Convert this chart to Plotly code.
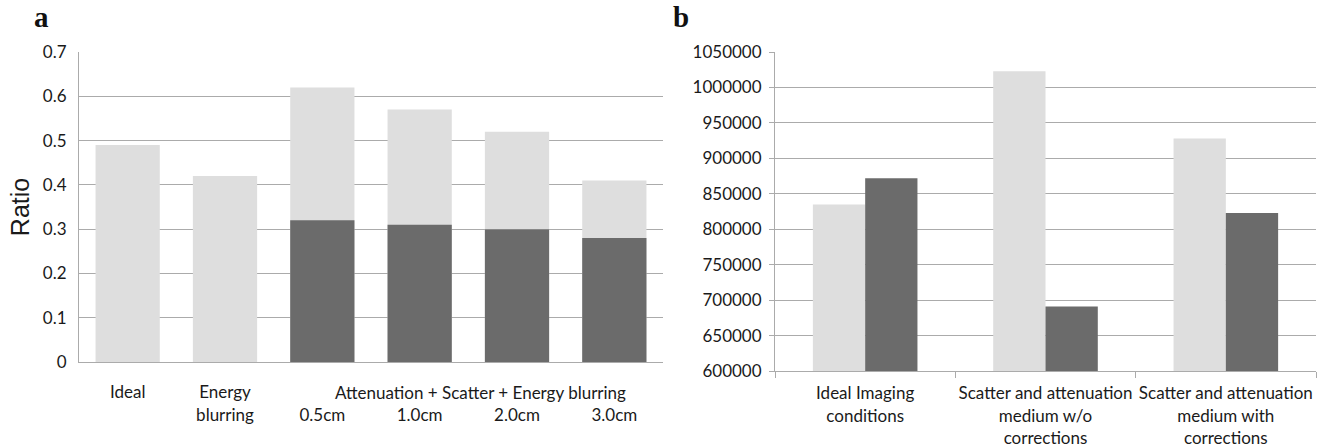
import plotly.graph_objects as go

# ---- Panel a data ----
a_categories = ["Ideal", "Energy blurring", "0.5cm", "1.0cm", "2.0cm", "3.0cm"]
a_light = [0.49, 0.42, 0.62, 0.57, 0.52, 0.41]
a_dark = [None, None, 0.32, 0.31, 0.30, 0.28]
a_group_label = "Attenuation + Scatter + Energy blurring"
a_ytick_vals = [0, 0.1, 0.2, 0.3, 0.4, 0.5, 0.6, 0.7]
a_ytick_text = ["0", "0.1", "0.2", "0.3", "0.4", "0.5", "0.6", "0.7"]

# ---- Panel b data ----
b_categories = ["Ideal Imaging<br>conditions",
                "Scatter and attenuation<br>medium w/o<br>corrections",
                "Scatter and attenuation<br>medium with<br>corrections"]
b_light = [835000, 1023000, 928000]
b_dark = [872000, 691000, 823000]
b_ytick_vals = [600000, 650000, 700000, 750000, 800000, 850000, 900000, 950000, 1000000, 1050000]

LIGHT = "#dedede"
DARK = "#6b6b6b"
GRID = "#ababab"
FONT = "Lato"
TXT = "#1a1a1a"

W, H = 1317, 448


def px(x):
    return x / W


def py(y):
    return (H - y) / H


# tick text for panel a (single-word labels on line 1, cm labels on line 2)
a_ticktext = []
for c in a_categories:
    if c.endswith("cm"):
        a_ticktext.append(" <br>" + c)
    else:
        a_ticktext.append(c.replace(" ", "<br>"))
a_x = list(range(len(a_categories)))

fig = go.Figure()

fig.add_trace(go.Bar(x=a_x, y=a_light, marker=dict(color=LIGHT, line=dict(width=0)),
                     width=0.66, offset=-0.33, xaxis="x", yaxis="y", showlegend=False))
fig.add_trace(go.Bar(x=a_x, y=a_dark, marker=dict(color=DARK, line=dict(width=0)),
                     width=0.66, offset=-0.33, xaxis="x", yaxis="y", showlegend=False))

fig.add_trace(go.Bar(x=b_categories, y=b_light, marker=dict(color=LIGHT, line=dict(width=0)),
                     xaxis="x2", yaxis="y2", showlegend=False))
fig.add_trace(go.Bar(x=b_categories, y=b_dark, marker=dict(color=DARK, line=dict(width=0)),
                     xaxis="x2", yaxis="y2", showlegend=False))

fig.update_layout(
    width=W, height=H,
    margin=dict(l=0, r=0, t=0, b=0, autoexpand=False),
    paper_bgcolor="white", plot_bgcolor="white",
    barmode="group", bargap=0.42, bargroupgap=0,
    font=dict(family=FONT, size=17, color=TXT),
    xaxis=dict(domain=[px(79), px(663)], range=[-0.5, 5.5],
               tickvals=a_x, ticktext=a_ticktext, showgrid=False, tickangle=0,
               showline=True, linecolor=GRID, linewidth=1, ticks="",
               anchor="y", ticklabelstandoff=15, fixedrange=True, automargin=False),
    yaxis=dict(domain=[py(362), py(52)], range=[0, 0.7],
               tickvals=a_ytick_vals, ticktext=a_ytick_text,
               showgrid=True, gridcolor=GRID, gridwidth=1,
               showline=True, linecolor=GRID, linewidth=1, ticks="",
               zeroline=False, anchor="x", ticklabelstandoff=8, automargin=False,
               title=dict(text="Ratio", font=dict(family="Liberation Sans", size=25, color=TXT),
                          standoff=6)),
    xaxis2=dict(domain=[px(775), px(1316)], showgrid=False, tickangle=0,
                showline=True, linecolor=GRID, linewidth=1,
                ticks="outside", tickson="boundaries", ticklen=6, tickcolor=GRID,
                anchor="y2", ticklabelstandoff=7, fixedrange=True, automargin=False),
    yaxis2=dict(domain=[py(371), py(52)], range=[600000, 1050000],
                tickvals=b_ytick_vals, tickformat="d",
                showgrid=True, gridcolor=GRID, gridwidth=1,
                showline=True, linecolor=GRID, linewidth=1,
                ticks="outside", ticklen=5, tickcolor=GRID, automargin=False,
                zeroline=False, anchor="x2", ticklabelstandoff=4),
)

fig.add_annotation(text=a_group_label, x=3.62, xref="x", y=py(392), yref="paper",
                   showarrow=False, font=dict(family=FONT, size=17, color=TXT),
                   xanchor="center", yanchor="middle")
fig.add_annotation(text="<b>a</b>", x=px(33), xref="paper", y=1.0, yref="paper",
                   showarrow=False, font=dict(family="Liberation Serif", size=29, color="#111"),
                   xanchor="left", yanchor="top", borderpad=0)
fig.add_annotation(text="<b>b</b>", x=px(672), xref="paper", y=1.0, yref="paper",
                   showarrow=False, font=dict(family="Liberation Serif", size=29, color="#111"),
                   xanchor="left", yanchor="top", borderpad=0)

fig.write_html("out.html", config={"displayModeBar": False},
               post_script="document.body.style.margin='0';document.body.style.overflow='hidden';")
